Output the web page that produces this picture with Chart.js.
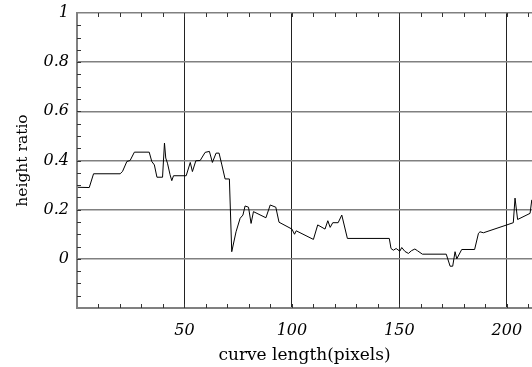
<!DOCTYPE html>
<html>
<head>
<meta charset="utf-8">
<script src="https://cdn.jsdelivr.net/npm/chart.js@4"></script>
<style>
  html, body { margin: 0; padding: 0; background: #fff; }
  #wrap { width: 532px; height: 367px; }
</style>
</head>
<body>
<div id="wrap"><canvas id="c" width="532" height="367"></canvas></div>
<script>
// ---- data ----
const curveLength = [0.4, 5.7, 7.7, 20.1, 21.2, 23.2, 24.7, 26.7, 33.6, 34.8, 36.0, 37.2, 39.8, 40.7, 41.3, 42.1, 43.3, 44.1, 44.9, 50.8,
  52.7, 53.7, 55.3, 57.3, 59.6, 61.6, 63.0, 64.7, 66.1, 67.4, 68.9, 70.9, 72.0, 74.0, 75.9, 77.2, 78.2, 79.8, 81.0, 82.1,
  87.9, 89.9, 92.5, 94.0, 100.0, 101.2, 102.0, 110.0, 112.0, 115.4, 116.7, 117.8, 119.0, 121.5, 123.2, 125.8, 145.3, 146.1, 147.2, 148.5,
  150.2, 151.1, 152.6, 154.2, 155.6, 157.2, 158.4, 160.7, 171.8, 173.6, 174.8, 175.9, 176.7, 179.0, 185.0, 186.8, 187.5, 189.1, 200.0, 203.0,
  203.8, 205.0, 210.8, 211.6];
const heightRatio = [0.291, 0.290, 0.346, 0.346, 0.356, 0.396, 0.400, 0.434, 0.434, 0.396, 0.382, 0.332, 0.332, 0.471, 0.410, 0.389, 0.342, 0.318, 0.338, 0.338,
  0.392, 0.355, 0.399, 0.400, 0.433, 0.437, 0.392, 0.430, 0.430, 0.382, 0.325, 0.325, 0.029, 0.110, 0.165, 0.178, 0.215, 0.210, 0.144, 0.192,
  0.167, 0.219, 0.210, 0.149, 0.121, 0.100, 0.114, 0.079, 0.138, 0.121, 0.155, 0.128, 0.147, 0.147, 0.178, 0.083, 0.083, 0.042, 0.035, 0.042,
  0.031, 0.046, 0.030, 0.022, 0.033, 0.040, 0.033, 0.019, 0.019, -0.030, -0.030, 0.029, 0.000, 0.038, 0.038, 0.104, 0.110, 0.106, 0.138, 0.147,
  0.247, 0.160, 0.185, 0.240];
const xTicks = [50, 100, 150, 200];
const yTicks = [-0.2, 0, 0.2, 0.4, 0.6, 0.8, 1];
const yTickLabels = ['', '0', '0.2', '0.4', '0.6', '0.8', '1'];
const xRange = [0, 211.7];
const yRange = [-0.2, 1];
const xMinorStep = 10;
const yMinorStep = 0.05;

const points = curveLength.map((x, i) => ({ x: x, y: heightRatio[i] }));

const minorTicks = {
  id: 'minorTicks',
  afterDraw(chart) {
    const { ctx, chartArea: a, scales: { x, y } } = chart;
    ctx.save();
    ctx.strokeStyle = '#333';
    ctx.lineWidth = 1;
    ctx.beginPath();
    for (let v = xRange[0] + xMinorStep; v < xRange[1]; v += xMinorStep) {
      const px = Math.round(x.getPixelForValue(v)) + 0.5;
      ctx.moveTo(px, a.bottom); ctx.lineTo(px, a.bottom - 4);
      ctx.moveTo(px, a.top); ctx.lineTo(px, a.top + 4);
    }
    for (let v = yRange[0] + yMinorStep; v < yRange[1] - 1e-9; v += yMinorStep) {
      const py = Math.round(y.getPixelForValue(v)) + 0.5;
      ctx.moveTo(a.left, py); ctx.lineTo(a.left + 4, py);
    }
    ctx.stroke();
    ctx.restore();
  }
};

new Chart(document.getElementById('c'), {
  type: 'line',
  data: {
    datasets: [{
      data: points,
      borderColor: '#000',
      borderWidth: 1,
      pointRadius: 0,
      tension: 0,
      fill: false
    }]
  },
  options: {
    responsive: false,
    animation: false,
    events: [],
    layout: { padding: { left: 0, right: 0, top: 13, bottom: 0 } },
    plugins: { legend: { display: false }, tooltip: { enabled: false } },
    scales: {
      x: {
        type: 'linear',
        min: xRange[0],
        max: xRange[1],
        afterBuildTicks: s => { s.ticks = xTicks.map(v => ({ value: v })); },
        afterFit: s => { s.height = 59; s.paddingLeft = 0; s.paddingRight = 0; },
        grid: { color: '#222', lineWidth: 1, drawTicks: false },
        border: { color: '#808080', width: 2 },
        ticks: {
          padding: 13,
          color: '#000',
          maxRotation: 0,
          autoSkip: false,
          font: { family: 'DejaVu Serif', style: 'italic', size: 16 },
          callback: v => String(v)
        },
        title: {
          display: true,
          text: 'curve length(pixels)',
          color: '#000',
          padding: { top: 0, bottom: 1 },
          font: { family: 'DejaVu Serif', size: 17 }
        }
      },
      y: {
        type: 'linear',
        min: yRange[0],
        max: yRange[1],
        afterBuildTicks: s => { s.ticks = yTicks.map(v => ({ value: v })); },
        afterFit: s => { s.width = 77; s.paddingTop = 0; s.paddingBottom = 0; },
        grid: {
          color: c => (c.tick && c.tick.value <= yRange[0] + 1e-9) ? 'rgba(0,0,0,0)' : '#808080',
          lineWidth: 1.5,
          drawTicks: false
        },
        border: { color: '#808080', width: 2 },
        ticks: {
          padding: 8,
          color: '#000',
          autoSkip: false,
          font: { family: 'DejaVu Serif', style: 'italic', size: 16 },
          callback: (v, i) => yTickLabels[i]
        },
        title: {
          display: true,
          text: 'height ratio',
          color: '#000',
          padding: { top: 14, bottom: 0 },
          font: { family: 'DejaVu Serif', size: 15.5 }
        }
      }
    }
  },
  plugins: [minorTicks]
});
</script>
</body>
</html>
